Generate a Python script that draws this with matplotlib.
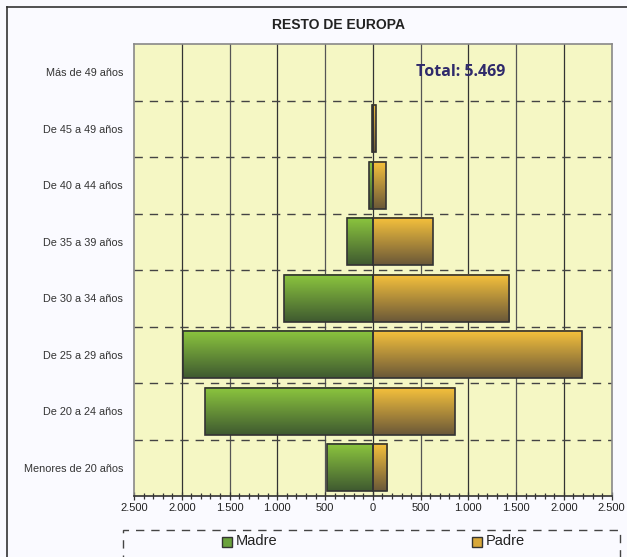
import numpy as np
import matplotlib
matplotlib.use('Agg')
import matplotlib.pyplot as plt
from matplotlib.patches import Rectangle
from matplotlib.colors import LinearSegmentedColormap
from matplotlib.ticker import FuncFormatter, MultipleLocator

# datos
edades = ['Menores de 20 años', 'De 20 a 24 años', 'De 25 a 29 años', 'De 30 a 34 años',
          'De 35 a 39 años', 'De 40 a 44 años', 'De 45 a 49 años', 'Más de 49 años']
madre = [485, 1760, 1990, 925, 275, 45, 8, 0]
padre = [150, 855, 2185, 1430, 625, 135, 30, 0]
total = '5.469'

plt.rcParams['font.family'] = ['Liberation Sans', 'DejaVu Sans']

fig = plt.figure(figsize=(6.27, 5.57), dpi=100)
fig.patch.set_facecolor('#fafaff')

# marco exterior
W, H = 627, 557
fig.add_artist(plt.Line2D([7/W, 7/W], [0, 1-7/H], color='#333333', lw=1.2))
fig.add_artist(plt.Line2D([7/W, 1], [1-7/H, 1-7/H], color='#333333', lw=1.2))

ax = fig.add_axes([134/W, 1-496/H, (611.7-134)/W, (496-44)/H])
ax.set_facecolor('#f5f7c4')
for s in ax.spines.values():
    s.set_color('#888888')
    s.set_linewidth(1.2)
ax.spines['bottom'].set_color('#333333')

verde = LinearSegmentedColormap.from_list('v', ['#3f5a30', '#8cc63e'])
naranja = LinearSegmentedColormap.from_list('n', ['#6a5838', '#f7c23c'])
grad = np.linspace(0, 1, 100).reshape(-1, 1)

alto = 0.84
y = np.arange(len(edades))
for i in range(len(edades)):
    if madre[i] > 0:
        ax.imshow(grad, extent=[-madre[i], 0, y[i]-alto/2, y[i]+alto/2], origin='lower',
                  cmap=verde, aspect='auto', zorder=3)
        ax.add_patch(Rectangle((-madre[i], y[i]-alto/2), madre[i], alto, fill=False,
                               edgecolor='#333333', lw=1.2, zorder=4))
    if padre[i] > 0:
        ax.imshow(grad, extent=[0, padre[i], y[i]-alto/2, y[i]+alto/2], origin='lower',
                  cmap=naranja, aspect='auto', zorder=3)
        ax.add_patch(Rectangle((0, y[i]-alto/2), padre[i], alto, fill=False,
                               edgecolor='#333333', lw=1.2, zorder=4))

ax.set_xlim(-2500, 2500)
ax.set_ylim(-0.5, len(edades)-0.5)

# rejilla
for xv in range(-2000, 2500, 500):
    c = '#333333' if xv % 1000 == 0 else '#555555'
    ax.axvline(xv, color=c, lw=0.9, zorder=1)
for k in range(len(edades)-1):
    ax.axhline(k+0.5, color='#444444', lw=1, ls=(0, (6, 5)), zorder=2)

ax.set_yticks(y)
ax.set_yticklabels(edades, fontsize=7.8, color='#333333')
ax.tick_params(axis='y', length=0, pad=8)

ax.xaxis.set_major_locator(MultipleLocator(500))
ax.xaxis.set_minor_locator(MultipleLocator(100))
ax.xaxis.set_major_formatter(FuncFormatter(lambda v, p: '{:,.0f}'.format(abs(v)).replace(',', '.')))
ax.tick_params(axis='x', which='both', direction='inout', length=6, width=0.9,
               color='#333333', labelsize=8, labelcolor='#222222', pad=2)
ax.tick_params(axis='x', which='minor', length=5)

ax.text(920, 7, 'Total: ' + total, fontsize=11.5, fontweight='bold', color='#2f2a6b',
        ha='center', va='center', family=['Open Sans', 'DejaVu Sans'], zorder=5)

fig.text(338/W, 1-25/H, 'RESTO DE EUROPA', fontsize=10, fontweight='bold',
         ha='center', va='center', color='#222222')

# leyenda
fig.add_artist(Rectangle((123/W, -0.05), (620-123)/W, 0.05+1-530/H, transform=fig.transFigure,
                         fill=False, edgecolor='#444444', lw=1, ls=(0, (6, 5))))
fig.add_artist(Rectangle((222/W, 1-547/H), 10/W, 10/H, transform=fig.transFigure,
                         facecolor='#6aa23c', edgecolor='#333333', lw=1))
fig.text(236/W, 1-541/H, 'Madre', fontsize=10.5, va='center', color='#222222')
fig.add_artist(Rectangle((472/W, 1-547/H), 10/W, 10/H, transform=fig.transFigure,
                         facecolor='#d8a83a', edgecolor='#333333', lw=1))
fig.text(486/W, 1-541/H, 'Padre', fontsize=10.5, va='center', color='#222222')

fig.savefig('out.png', dpi=100, facecolor=fig.get_facecolor())
